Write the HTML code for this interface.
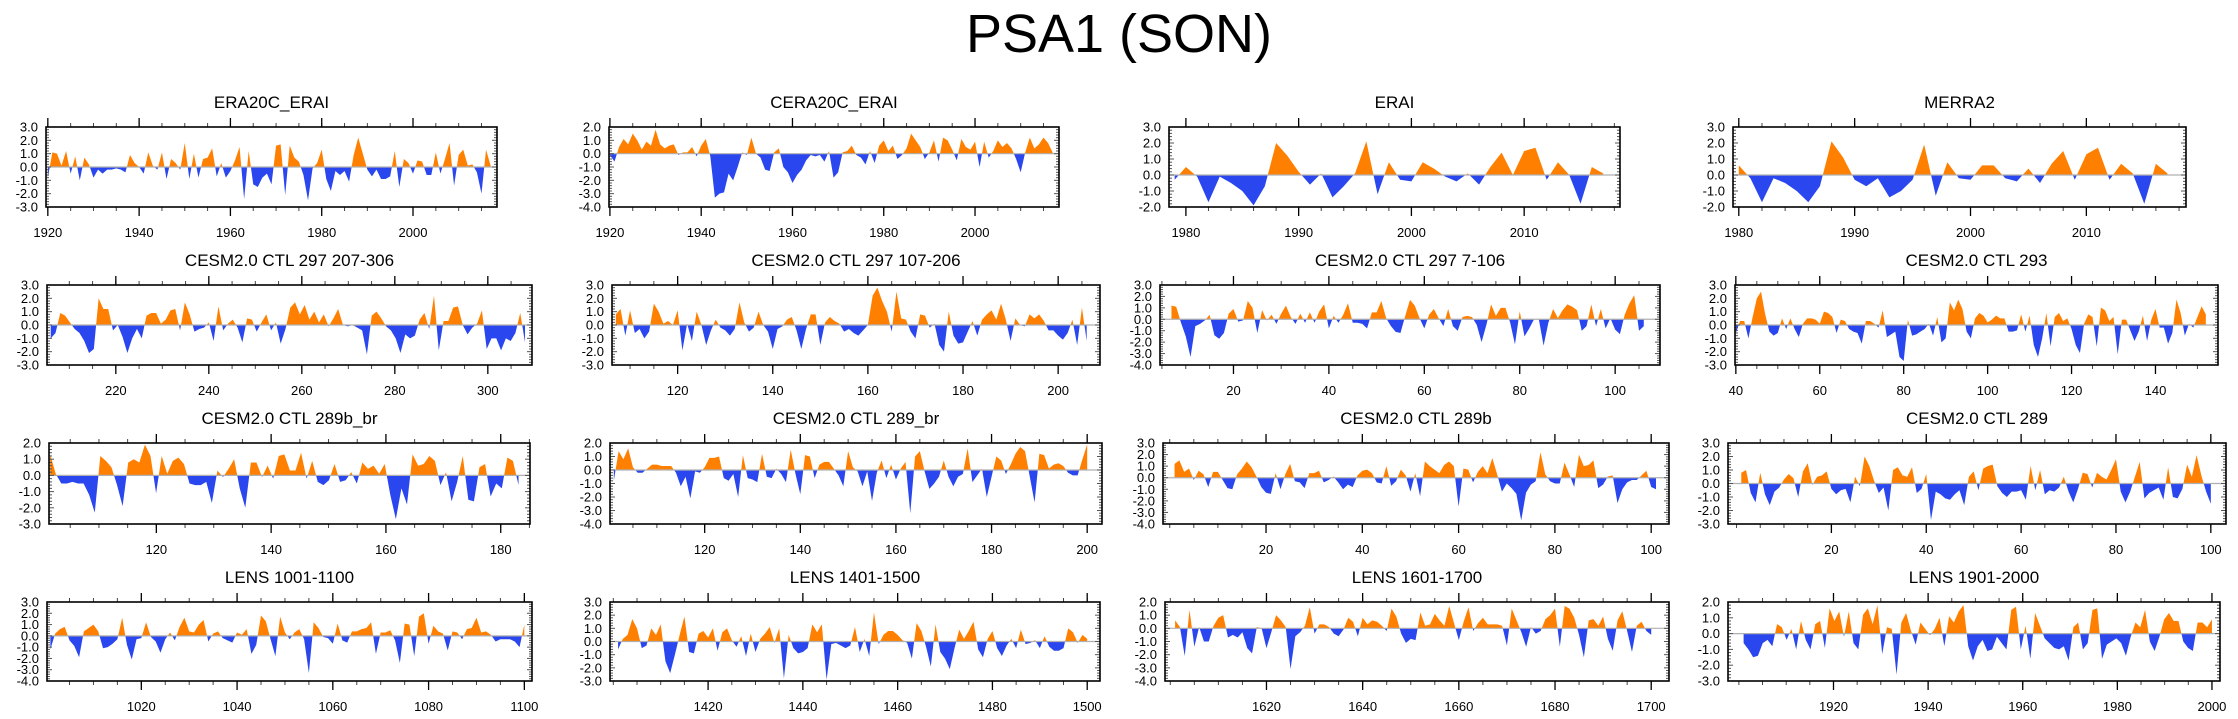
<!DOCTYPE html>
<html><head><meta charset="utf-8"><title>PSA1 (SON)</title>
<style>
html,body{margin:0;padding:0;background:#fff;}
svg{display:block;font-family:"Liberation Sans",Arial,sans-serif;}
</style></head>
<body>
<svg id="chart" width="2238" height="719" viewBox="0 0 2238 719" xmlns="http://www.w3.org/2000/svg">
<rect x="0" y="0" width="2238" height="719" fill="#fff"/>
<text x="1119" y="52" text-anchor="middle" font-size="54" fill="#000">PSA1 (SON)</text>
</svg>
<script>
// ---- data arrays ----
const era20cErai = [-0.8,1.1,1.0,0.1,1.2,-0.5,0.8,-1.0,0.7,0.2,-0.8,-0.2,-0.5,-0.2,-0.2,-0.1,-0.2,-0.4,0.9,0.3,0.0,-0.5,1.1,0.1,-0.2,1.1,-0.9,0.6,0.3,-0.2,1.8,-0.9,1.0,-0.8,0.6,0.7,1.4,-0.7,0.3,-0.8,-0.3,0.5,1.5,-2.4,1.2,-1.3,-1.5,-0.8,-0.5,-1.3,1.6,1.7,-2.1,1.6,0.7,0.4,-0.6,-2.5,-0.1,0.3,1.3,-0.9,-1.8,-0.3,-0.6,-0.3,-1.1,0.9,2.2,1.0,-0.2,-0.7,-0.2,-0.9,-0.9,-0.7,1.2,-1.5,0.6,0.3,-0.5,0.5,0.4,-0.6,-0.6,1.1,-0.5,0.6,1.8,-1.4,0.9,1.3,0.1,0.2,-0.4,-2.0,1.3,0.1];
const cera20cErai = [-0.1,-0.6,0.5,1.1,0.7,1.5,1.0,0.3,0.9,0.6,1.8,0.7,0.4,0.6,0.7,-0.1,0.1,0.1,0.5,-0.2,0.6,1.1,-0.2,-3.3,-3.0,-2.9,-1.5,-2.0,-1.0,0.1,-0.1,1.2,0.0,-0.3,-1.2,-1.3,0.1,0.4,-1.0,-1.4,-2.2,-1.6,-1.2,-0.5,-0.1,-0.2,-0.1,-0.6,0.2,-1.8,-1.4,0.1,0.2,0.6,-0.1,-0.3,-0.8,0.2,-0.7,0.6,1.0,0.2,0.6,-0.4,-0.1,0.4,1.5,1.0,0.5,-0.4,0.1,1.0,-0.6,1.2,1.0,0.3,-0.5,1.1,0.5,0.3,0.9,-1.0,0.9,-0.3,0.2,1.0,0.5,0.8,0.4,-0.4,-1.4,0.1,1.2,0.4,0.7,1.2,0.8,0.1];
const eraiValues = [-0.3,0.5,-0.1,-1.7,-0.1,-0.5,-1.0,-1.9,-0.7,2.0,1.2,0.2,-0.6,0.1,-1.4,-0.7,0.1,2.1,-1.2,0.8,-0.3,-0.4,0.8,0.4,-0.1,-0.4,0.1,-0.6,0.5,1.4,0.0,1.5,1.7,-0.3,0.8,0.0,-1.8,0.5,0.1];
const merra2Values = [0.6,-0.2,-1.7,-0.2,-0.5,-1.0,-1.7,-0.7,2.1,1.1,-0.3,-0.7,-0.2,-1.4,-1.0,-0.3,1.9,-1.3,0.8,-0.2,-0.3,0.6,0.6,-0.2,-0.4,0.4,-0.5,0.7,1.5,-0.3,1.3,1.7,-0.3,0.7,0.1,-1.8,0.7,0.1];
const ctl297a = [-1.0,-0.6,0.9,0.7,0.2,-0.3,-0.6,-1.2,-2.1,-1.8,2.0,1.2,1.2,-0.4,0.0,-0.9,-2.1,-1.0,-0.3,-1.0,0.7,0.9,0.9,0.1,0.4,1.1,1.2,-0.4,1.7,0.8,-0.5,-0.3,-0.2,0.2,-1.2,1.4,-0.4,0.1,0.4,-0.2,-1.3,0.5,0.4,-0.5,0.2,0.8,-0.4,0.2,-1.4,-0.3,1.3,1.7,0.8,1.5,0.4,1.0,0.2,0.8,-0.1,0.5,1.2,0.0,-0.1,0.0,-0.2,-0.4,-2.2,0.7,1.0,0.5,-0.1,-0.4,-1.0,-2.1,-0.7,-1.0,-0.8,0.4,0.9,-0.3,2.2,-1.9,0.3,0.3,1.3,1.4,0.0,-0.7,-0.2,0.1,1.1,-1.8,-1.0,-1.0,-1.9,-1.0,-1.2,-0.6,0.9,-1.3];
const ctl297b = [0.8,1.2,-0.8,1.1,-0.6,-0.3,-1.0,-0.5,1.6,1.0,0.1,0.3,0.0,1.1,-1.9,0.1,-1.2,1.0,0.0,-1.5,-0.4,0.4,-0.2,-0.4,-0.8,-0.3,1.7,0.2,-0.5,-0.2,1.0,0.0,-0.5,-1.8,-0.3,-0.1,0.4,0.6,-0.4,-1.8,-0.3,0.8,0.8,-1.5,0.2,0.6,0.3,0.1,-0.5,-0.3,-0.6,-0.8,-0.4,0.0,2.2,2.8,1.8,1.0,-0.5,2.5,0.5,0.4,-0.5,-1.0,0.8,0.7,-0.2,0.1,-1.5,-2.0,1.0,-0.8,-1.4,-1.3,-0.5,0.3,-0.8,0.4,0.8,1.1,0.4,1.6,0.4,-1.2,0.5,0.0,-0.1,0.8,0.5,0.8,0.3,-0.4,-0.4,-0.8,-1.1,-0.6,0.4,-1.5,1.3,-1.2];
const ctl297c = [1.2,1.1,-0.3,-1.5,-3.3,-0.6,-0.4,-0.1,0.4,-1.4,-1.7,-1.2,0.5,0.9,-0.2,-0.1,1.6,1.0,-1.2,0.8,-0.1,0.4,-0.4,0.5,1.2,0.2,-0.4,0.5,-0.3,0.6,-0.3,0.7,1.3,-0.8,0.3,-0.3,0.4,1.4,-0.3,-0.3,-0.4,-0.8,0.6,0.6,1.6,0.1,-0.6,-1.1,-1.2,0.3,1.7,1.2,0.1,-0.8,0.4,0.9,0.1,-0.6,0.9,-0.6,-1.0,0.2,0.3,0.2,-0.5,-2.0,-0.5,1.3,0.3,1.0,1.0,-0.3,-2.2,0.7,-1.5,-0.8,0.0,0.0,-2.3,-0.3,0.9,0.1,0.8,1.3,1.1,0.8,-1.0,-0.6,1.3,-0.6,0.9,-0.8,0.1,-0.9,-1.3,0.4,1.4,2.1,-1.0,-0.6];
const ctl293 = [-0.6,0.3,0.3,-1.0,0.6,2.0,2.5,0.8,-0.5,-0.8,-0.6,0.5,-0.3,0.5,-0.3,-0.9,0.1,0.5,0.5,0.4,0.1,1.0,0.9,0.6,-0.6,0.4,0.3,-0.3,-0.5,-0.6,-1.4,0.3,0.3,0.1,-0.2,1.1,-0.9,-0.7,-0.5,-2.4,-2.7,0.4,-0.8,-0.7,-0.5,-0.3,0.1,-0.8,0.6,-1.3,-1.0,1.7,1.1,1.9,1.2,-0.5,-1.0,0.5,0.9,0.7,0.2,0.4,0.7,0.5,0.5,-0.5,-0.5,-0.4,0.8,-0.5,0.7,-1.5,-2.4,-1.0,0.9,-1.6,0.6,0.9,0.3,0.5,-0.3,-1.5,-2.1,0.1,0.8,0.6,-1.6,1.3,1.1,0.3,0.6,-2.2,0.4,0.4,-0.4,-1.2,-0.5,0.7,-1.2,0.4,1.2,-0.2,-0.2,-1.4,-0.6,1.9,0.9,-0.8,0.1,-0.2,0.6,1.4,0.8];
const ctl289bBr = [1.3,0.1,-0.5,-0.5,-0.4,-0.5,-0.5,-1.2,-2.3,1.2,0.9,0.5,-0.6,-1.9,0.8,1.0,0.8,1.9,1.2,-1.1,1.2,0.1,0.9,1.1,0.7,-0.5,-0.6,-0.6,-0.4,-1.7,0.3,-0.1,0.4,1.0,-0.8,-2.0,0.8,0.8,-0.1,0.6,-0.2,1.2,1.3,0.3,0.3,1.4,-0.2,0.9,-0.4,-0.6,-0.3,0.7,-0.4,-0.3,0.2,-0.5,0.8,0.4,0.6,0.1,0.7,-1.2,-2.7,-0.8,-1.8,1.3,0.6,0.7,1.2,0.9,-0.6,0.2,-1.6,-0.4,1.2,-1.5,-1.6,0.5,0.7,-1.3,-0.5,-0.8,1.1,0.9,-0.6];
const ctl289Br = [-0.8,1.4,0.8,1.6,0.2,-0.2,-0.2,0.1,0.4,0.4,0.3,0.3,0.3,-0.2,-1.2,-0.5,-2.1,-0.1,-0.2,0.2,0.9,0.9,1.0,-0.6,-0.8,-0.3,-2.0,1.1,-0.6,-0.7,-0.9,1.2,-0.5,-0.6,0.1,-0.3,-0.9,1.5,-0.3,-1.8,1.1,1.0,-0.6,0.4,0.6,0.6,0.1,-0.4,-1.2,1.4,0.2,-0.1,-1.2,-0.1,-2.3,-0.2,0.7,-0.6,0.4,-0.7,0.1,0.6,-3.2,1.0,1.4,-0.1,-1.4,-1.0,-0.5,0.7,-0.5,-1.2,-0.5,-0.3,1.6,-0.9,-0.4,0.1,-2.0,-0.5,1.0,0.7,-0.3,0.4,1.2,1.7,1.4,-0.5,-2.4,1.2,1.1,0.1,0.4,0.5,0.3,-0.2,-0.4,-0.4,0.8,1.9];
const ctl289b = [1.2,1.5,0.5,0.8,-0.2,0.6,0.3,-0.8,0.5,0.5,-0.2,-0.9,-1.0,0.3,0.8,1.4,0.9,0.1,-0.8,-1.3,-1.4,0.4,-1.0,0.3,1.2,-0.3,-0.4,-0.9,0.4,0.4,0.6,-0.4,-0.2,0.1,-0.4,-1.0,-0.6,-0.8,0.2,0.6,0.7,0.4,-0.4,-0.5,1.0,-0.7,-0.3,0.7,0.2,-1.2,0.4,-1.6,1.4,1.0,0.7,0.4,1.1,1.4,1.0,-2.5,0.8,0.7,-0.4,0.5,1.0,0.4,1.7,0.3,-1.2,-0.5,-0.9,-1.4,-3.7,-1.3,-0.6,-0.3,2.2,0.3,-0.3,-0.5,-0.5,1.3,0.3,-0.8,2.0,1.0,1.1,1.5,-0.9,-0.6,0.1,0.2,-2.2,-1.0,-0.4,-0.2,-0.2,0.2,0.6,-0.8,-1.0];
const ctl289 = [0.8,1.0,-0.7,-1.4,0.8,-0.8,-1.6,-0.6,-0.3,0.3,0.7,0.4,-1.0,0.9,1.5,-0.1,0.5,0.6,0.9,-0.4,-0.8,-0.5,-0.4,-1.4,0.5,-0.2,2.0,1.3,0.2,-0.7,-0.3,-2.0,1.0,1.2,0.6,0.5,1.2,-0.7,-0.4,0.7,-2.7,-0.6,-0.8,-1.1,-1.2,-0.8,-0.5,-1.6,0.5,0.9,-0.5,1.1,1.3,1.4,-0.2,-0.7,-1.0,-0.6,-0.6,-0.5,-1.2,1.3,-0.5,1.0,-0.8,-0.5,-0.6,-0.3,0.5,-0.6,-1.4,-0.4,0.8,0.7,-0.3,0.8,0.5,0.3,1.0,1.8,-0.6,-1.4,-0.6,0.5,1.6,-1.1,-0.7,-0.5,-0.3,-1.2,1.2,-1.0,-1.1,-0.4,1.4,0.5,2.1,0.6,-0.6,-1.5];
const lens1001 = [-1.2,0.2,0.6,0.8,-0.4,-0.9,-1.9,0.4,0.7,1.0,0.4,-1.1,-1.0,-0.7,-0.3,1.6,-0.8,-2.1,-0.3,-0.2,1.2,-0.1,-0.5,-1.5,-0.3,0.3,-0.4,0.8,1.6,0.4,0.3,1.0,1.4,-0.5,0.2,0.4,-0.2,-0.4,-0.6,0.3,0.1,0.6,-1.6,-0.8,1.8,1.3,-0.3,-1.8,1.7,0.3,-0.3,0.3,0.6,-0.3,-3.3,1.2,0.7,-0.1,-0.2,-0.7,1.1,-0.4,-0.6,0.4,0.4,0.6,0.7,1.2,-1.6,0.3,0.3,0.5,-0.4,-2.4,1.1,1.0,-1.8,1.7,2.0,-0.7,0.9,0.4,0.2,-1.3,0.4,0.3,-0.3,0.6,0.7,1.6,0.3,0.4,0.1,-0.5,-0.3,-0.3,-0.3,-0.5,-1.0,1.0];
const lens1401 = [-0.6,0.2,0.5,1.7,1.0,-0.5,-0.3,1.0,0.5,1.3,-1.5,-2.4,-1.0,0.5,1.9,-0.8,-0.9,0.6,0.8,0.3,1.0,-0.7,0.7,1.0,0.1,-0.4,0.4,-1.1,0.6,-0.8,0.2,0.6,1.1,-0.1,1.0,-2.8,0.5,-0.5,-0.9,-0.8,-0.5,1.3,0.7,1.3,-2.9,-0.2,-0.1,-0.3,-0.5,-0.3,1.1,-0.8,0.2,-1.1,2.2,-0.2,0.5,0.8,0.8,0.5,0.1,-0.1,-1.3,1.4,0.8,-0.4,-1.9,1.3,-0.8,-1.3,-2.1,-0.5,0.9,0.2,0.8,1.5,-0.6,-1.2,0.2,0.8,-0.5,-1.1,-0.3,0.2,-0.5,0.9,-0.2,-0.1,0.1,-0.5,0.4,-0.4,-0.7,-0.7,-0.5,1.0,0.7,-0.1,0.5,0.2];
const lens1601 = [0.6,0.1,-2.1,1.4,-1.4,0.1,-1.0,-1.0,0.2,0.8,1.0,-0.7,-0.5,-0.7,-0.3,-1.5,-1.9,0.1,0.0,-1.5,-0.3,1.0,0.6,0.1,-3.1,-0.6,-0.3,0.2,1.6,-0.4,0.3,0.3,0.1,-0.4,-0.6,-0.1,0.8,0.5,-0.6,0.8,0.3,0.6,0.5,0.2,-0.2,1.5,0.9,-0.4,-1.1,-0.8,-0.9,1.2,0.2,0.3,1.1,0.6,0.2,1.7,0.4,-0.9,0.5,1.6,-0.2,0.4,0.8,0.3,0.3,0.3,0.2,-1.3,1.5,0.6,-0.3,-1.4,0.1,-0.4,-0.2,0.7,1.0,1.5,-1.4,1.7,1.5,0.8,-0.5,-2.2,0.6,0.7,0.2,0.9,-0.8,-1.7,0.6,1.3,-0.2,-1.8,0.2,0.5,-0.2,-0.5];
const lens1901 = [-0.6,-1.0,-1.5,-1.4,-0.6,-0.4,-0.8,0.6,0.4,-0.4,0.3,-1.0,0.8,-0.4,-1.0,0.6,0.8,-0.9,1.6,0.8,1.4,-0.2,1.4,-0.6,-1.0,1.2,1.6,0.6,1.8,-1.3,0.4,0.3,-2.6,0.7,1.3,0.2,-0.7,0.7,0.3,-0.1,0.3,1.0,-0.8,1.1,0.7,1.4,1.8,-0.8,-1.7,-0.8,-0.4,-1.1,-1.0,-0.2,-0.6,-1.0,1.5,1.7,-1.0,0.5,-1.6,1.3,0.5,-0.3,-0.6,-0.9,-1.0,-0.8,-1.7,0.4,0.7,-1.0,-0.6,1.5,1.6,-1.6,-0.7,-0.5,-0.3,-0.6,-1.4,-0.2,0.7,0.4,1.5,-0.5,-1.1,-0.2,0.9,1.3,0.8,0.8,-0.5,-0.9,-1.1,0.7,0.7,0.4,0.9];

// ---- tick label arrays ----
const ticksR1Long = [1920,1940,1960,1980,2000];
const ticksR1Short = [1980,1990,2000,2010];
const ticks207 = [220,240,260,280,300];
const ticks107 = [120,140,160,180,200];
const ticks7 = [20,40,60,80,100];
const ticks40 = [40,60,80,100,120,140];
const ticks101 = [120,140,160,180];
const ticks1001 = [1020,1040,1060,1080,1100];
const ticks1401 = [1420,1440,1460,1480,1500];
const ticks1601 = [1620,1640,1660,1680,1700];
const ticks1901 = [1920,1940,1960,1980,2000];

// ---- panel layout (positions/axes) ----
const panels = [
 {id:'era20c-erai',title:'ERA20C_ERAI',box:[46,127,497,207],xr:[1919.6,2018.4],yr:[-3,3],dr:[1920,2017],vals:era20cErai,ticks:ticksR1Long,minor:5},
 {id:'cera20c-erai',title:'CERA20C_ERAI',box:[609,127,1059,207],xr:[1919.8,2018.4],yr:[-4,2],dr:[1920,2017],vals:cera20cErai,ticks:ticksR1Long,minor:5},
 {id:'erai',title:'ERAI',box:[1169,127,1620,207],xr:[1978.5,2018.5],yr:[-2,3],dr:[1979,2017],vals:eraiValues,ticks:ticksR1Short,minor:2},
 {id:'merra2',title:'MERRA2',box:[1733,127,2186,207],xr:[1979.5,2018.6],yr:[-2,3],dr:[1980,2017],vals:merra2Values,ticks:ticksR1Short,minor:2},
 {id:'ctl-297-207-306',title:'CESM2.0 CTL 297 207-306',box:[47,285,532,365],xr:[205.2,309.5],yr:[-3,3],dr:[206,308],vals:ctl297a,ticks:ticks207,minor:5},
 {id:'ctl-297-107-206',title:'CESM2.0 CTL 297 107-206',box:[612,285,1100,365],xr:[106.2,208.8],yr:[-3,3],dr:[107,206],vals:ctl297b,ticks:ticks107,minor:5},
 {id:'ctl-297-7-106',title:'CESM2.0 CTL 297 7-106',box:[1160,285,1660,365],xr:[4.6,109.4],yr:[-4,3],dr:[7,106],vals:ctl297c,ticks:ticks7,minor:5},
 {id:'ctl-293',title:'CESM2.0 CTL 293',box:[1735,285,2218,365],xr:[39.8,154.9],yr:[-3,3],dr:[40,152],vals:ctl293,ticks:ticks40,minor:5},
 {id:'ctl-289b-br',title:'CESM2.0 CTL 289b_br',box:[49,443,530,524],xr:[101.3,185.1],yr:[-3,2],dr:[101.5,183.1],vals:ctl289bBr,ticks:ticks101,minor:5},
 {id:'ctl-289-br',title:'CESM2.0 CTL 289_br',box:[610,443,1102,524],xr:[100.2,203.1],yr:[-4,2],dr:[101,200],vals:ctl289Br,ticks:ticks107,minor:5},
 {id:'ctl-289b',title:'CESM2.0 CTL 289b',box:[1163,443,1669,524],xr:[-1.4,103.7],yr:[-4,3],dr:[1,101],vals:ctl289b,ticks:ticks7,minor:5},
 {id:'ctl-289',title:'CESM2.0 CTL 289',box:[1728,443,2226,524],xr:[-1.8,103.2],yr:[-3,3],dr:[1,100],vals:ctl289,ticks:ticks7,minor:5},
 {id:'lens-1001-1100',title:'LENS 1001-1100',box:[47,602,532,681],xr:[1000.3,1101.6],yr:[-4,3],dr:[1001,1100],vals:lens1001,ticks:ticks1001,minor:5},
 {id:'lens-1401-1500',title:'LENS 1401-1500',box:[610,602,1100,681],xr:[1399.3,1502.7],yr:[-3,3],dr:[1401,1500],vals:lens1401,ticks:ticks1401,minor:5},
 {id:'lens-1601-1700',title:'LENS 1601-1700',box:[1165,602,1669,681],xr:[1598.9,1703.7],yr:[-4,2],dr:[1601,1700],vals:lens1601,ticks:ticks1601,minor:5},
 {id:'lens-1901-2000',title:'LENS 1901-2000',box:[1728,602,2220,681],xr:[1897.7,2001.7],yr:[-3,2],dr:[1901,2000],vals:lens1901,ticks:ticks1901,minor:5}
];

const NS = 'http://www.w3.org/2000/svg';
const svg = document.getElementById('chart');
function mk(tag, attrs, parent){
  const e = document.createElementNS(NS, tag);
  for (const k in attrs) e.setAttribute(k, attrs[k]);
  (parent||svg).appendChild(e);
  return e;
}

panels.forEach(function(p, pi){
  const [x0,y0,x1,y1] = p.box;
  const xs = v => x0 + (v - p.xr[0]) / (p.xr[1] - p.xr[0]) * (x1 - x0);
  const ys = v => y1 - (v - p.yr[0]) / (p.yr[1] - p.yr[0]) * (y1 - y0);
  const g = mk('g', {});
  
  

  const t = mk('text', {x:(x0+x1)/2, y:y0-19, 'text-anchor':'middle', 'font-size':17, fill:'#000'}, g);
  t.textContent = p.title;
  
  

  const zy = ys(0);
  const defs = mk('defs', {}, g);
  const cA = mk('clipPath', {id:'ca'+pi}, defs);
  mk('rect', {x:x0, y:y0, width:x1-x0, height:zy-y0}, cA);
  const cB = mk('clipPath', {id:'cb'+pi}, defs);
  mk('rect', {x:x0, y:zy, width:x1-x0, height:y1-zy}, cB);

  const n = p.vals.length;
  const pts = p.vals.map(function(v,i){
    const xv = p.dr[0] + i * (p.dr[1] - p.dr[0]) / (n - 1);
    return xs(xv).toFixed(2) + ',' + ys(v).toFixed(2);
  });
  const poly = pts.join(' ') + ' ' + xs(p.dr[1]).toFixed(2) + ',' + zy.toFixed(2) + ' ' + xs(p.dr[0]).toFixed(2) + ',' + zy.toFixed(2);
  const pos = mk('polygon', {points:poly, fill:'#ff8000', 'clip-path':'url(#ca'+pi+')'}, g);
  
  
  const neg = mk('polygon', {points:poly, fill:'#2a46ee', 'clip-path':'url(#cb'+pi+')'}, g);
  
  

  const zl = mk('line', {x1:x0, x2:x1, y1:zy, y2:zy, stroke:'#b0b0b0', 'stroke-width':1.2}, g);
  
  

  for (let v = p.yr[0]; v <= p.yr[1] + 1e-9; v += 0.2) {
    const vv = Math.round(v*10)/10;
    const major = Math.abs(vv - Math.round(vv)) < 1e-6;
    const yy = ys(vv), L = major ? 5 : 3;
    mk('line', {x1:x0, x2:x0+L, y1:yy, y2:yy, stroke:'#555', 'stroke-width':1}, g);
    mk('line', {x1:x1, x2:x1-L, y1:yy, y2:yy, stroke:'#555', 'stroke-width':1}, g);
    if (major) {
      const lb = mk('text', {x:x0-8, y:yy+4.5, 'text-anchor':'end', 'font-size':13, fill:'#000'}, g);
      lb.textContent = vv.toFixed(1);
      
      
    }
  }
  const mStart = Math.ceil(p.xr[0] / p.minor) * p.minor;
  for (let v = mStart; v <= p.xr[1]; v += p.minor) {
    const xx = xs(v);
    mk('line', {x1:xx, x2:xx, y1:y0, y2:y0-4, stroke:'#444', 'stroke-width':1}, g);
    mk('line', {x1:xx, x2:xx, y1:y1, y2:y1+4, stroke:'#444', 'stroke-width':1}, g);
  }
  p.ticks.forEach(function(v){
    const xx = xs(v);
    mk('line', {x1:xx, x2:xx, y1:y0, y2:y0-9, stroke:'#000', 'stroke-width':1.3}, g);
    mk('line', {x1:xx, x2:xx, y1:y1, y2:y1+9, stroke:'#000', 'stroke-width':1.3}, g);
    const lb = mk('text', {x:xx, y:y1+30, 'text-anchor':'middle', 'font-size':13, fill:'#000'}, g);
    lb.textContent = v;
    
    
  });
  const fr = mk('rect', {x:x0, y:y0, width:x1-x0, height:y1-y0, fill:'none', stroke:'#000', 'stroke-width':1.6}, g);
  
  
});
</script>
</body></html>
